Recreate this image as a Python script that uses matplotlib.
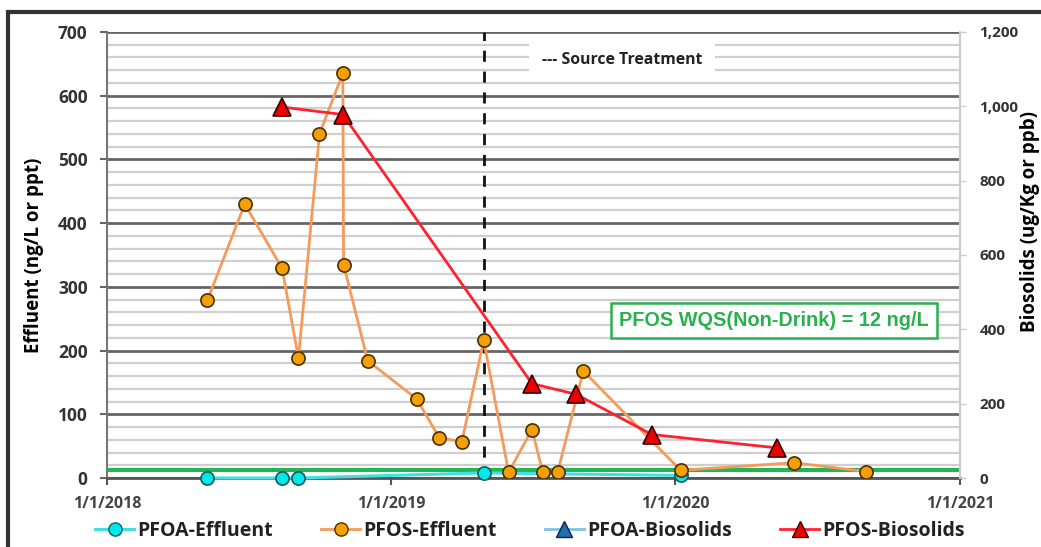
import datetime as dt
import matplotlib
matplotlib.use("Agg")
import matplotlib.pyplot as plt
import matplotlib.dates as mdates
from matplotlib.lines import Line2D
from matplotlib.patches import Rectangle
from matplotlib.ticker import MultipleLocator, FuncFormatter

plt.rcParams['font.family'] = ['Open Sans', 'DejaVu Sans']

# PFOS effluent samples (ng/L)
pfos_eff_dates = ["2018-05-10", "2018-06-27", "2018-08-14", "2018-09-04", "2018-10-01",
                  "2018-10-31", "2018-11-01", "2018-12-02", "2019-02-03", "2019-03-04",
                  "2019-04-02", "2019-04-30", "2019-06-01", "2019-07-01", "2019-07-15",
                  "2019-08-03", "2019-09-05", "2020-01-08", "2020-06-02", "2020-09-02"]
pfos_eff = [279, 430, 329, 188, 540, 635, 335, 184, 124, 63, 57, 216, 9, 76, 9, 9, 168, 12, 24, 10]

# PFOA effluent samples (ng/L)
pfoa_eff_dates = ["2018-05-10", "2018-08-14", "2018-09-04", "2019-04-30", "2020-01-08"]
pfoa_eff = [0, 0, 0, 8, 4]

# PFOS biosolids (ug/Kg)
pfos_bio_dates = ["2018-08-14", "2018-10-31", "2019-07-01", "2019-08-27", "2019-12-02", "2020-05-11"]
pfos_bio = [998, 978, 254, 225, 117, 81]

wqs_value = 12
treatment_date = "2019-04-30"
year_ticks = ["2018-01-01", "2019-01-01", "2020-01-01", "2021-01-01"]


def to_dates(lst):
    return [dt.datetime.strptime(s, "%Y-%m-%d") for s in lst]


fig = plt.figure(figsize=(10.41, 5.47), dpi=100)
ax = fig.add_axes([107/1041, 1-478/547, (960-107)/1041, (478-32)/547])
ax2 = ax.twinx()

xt = to_dates(year_ticks)
ax.set_xlim(xt[0], xt[-1])
ax.set_ylim(0, 700)
ax2.set_ylim(0, 1200)

# grid
ax.yaxis.set_major_locator(MultipleLocator(100))
ax.yaxis.set_minor_locator(MultipleLocator(20))
ax.grid(which='major', axis='y', color='#666666', lw=2)
ax.grid(which='minor', axis='y', color='#cfcfcf', lw=1.6)
ax.set_axisbelow(True)

# standard line
ax.plot([xt[0], xt[-1]], [wqs_value, wqs_value], color='#22b455', lw=3, zorder=3)

# source treatment
td = to_dates([treatment_date])[0]
ax.plot([td, td], [0, 700], color='#111111', lw=2, dashes=(4, 3.5), zorder=4)

ax.plot(to_dates(pfoa_eff_dates), pfoa_eff, color='#40e0e0', lw=2.2, marker='o', ms=9.5,
        mfc='#00e8e8', mec='#1a5a5a', mew=1.2, zorder=5, clip_on=False)
ax.plot(to_dates(pfos_eff_dates), pfos_eff, color='#f59a5a', lw=2, marker='o', ms=9.5,
        mfc='#f5a000', mec='#4a3000', mew=1.2, zorder=6)

ax2.plot(to_dates(pfos_bio_dates), pfos_bio, color='#ff2030', lw=2, marker='^', ms=13,
         mfc='#ee0000', mec='#300000', mew=1.2, zorder=5)

# axes styling
ax.set_xticks(xt)
ax.xaxis.set_major_formatter(FuncFormatter(lambda v, p: "{d.month}/{d.day}/{d.year}".format(d=mdates.num2date(v))))
for s in ['top', 'right']:
    ax.spines[s].set_visible(False)
for s in ['top', 'left', 'bottom']:
    ax2.spines[s].set_visible(False)
ax.spines['left'].set_color('#777777')
ax.spines['left'].set_linewidth(1.5)
ax.spines['bottom'].set_color('#555555')
ax.spines['bottom'].set_linewidth(2)
ax2.spines['right'].set_color('#cccccc')
ax2.spines['right'].set_linewidth(1.5)

ax.tick_params(axis='y', which='major', length=5, width=1.5, color='#666666', pad=9,
               labelsize=12.5, labelcolor='#333333')
ax.tick_params(axis='y', which='minor', length=0)
ax.tick_params(axis='x', length=5, width=1.5, color='#555555', pad=8, labelsize=11.5,
               labelcolor='#444444')
ax2.yaxis.set_major_locator(MultipleLocator(200))
ax2.yaxis.set_major_formatter(FuncFormatter(lambda v, p: "{:,.0f}".format(v)))
ax2.tick_params(axis='y', length=4, width=1, color='#cccccc', pad=10, labelsize=11,
                labelcolor='#333333')
for lab in ax.get_yticklabels() + ax.get_xticklabels() + ax2.get_yticklabels():
    lab.set_fontweight('bold')

ax.set_ylabel("Effluent (ng/L or ppt)", fontsize=13.5, fontweight='bold', labelpad=10)
fig.text(1030/1041, 1-222/547, "Biosolids (ug/Kg or ppb)", rotation=90, fontsize=13.5,
         fontweight='bold', ha='center', va='center')

ax2.text(0.604, 0.937, "--- Source Treatment", transform=ax2.transAxes, fontsize=11.3,
         fontweight='bold', color='#222222', ha='center', va='center', zorder=10,
         bbox=dict(boxstyle='square,pad=0.8', fc='white', ec='none'))
ax2.text(0.782, 0.353, "PFOS WQS(Non-Drink) = 12 ng/L", transform=ax2.transAxes,
         family=['Liberation Sans', 'DejaVu Sans'], fontsize=14.3, fontweight='bold',
         color='#2ab04f', ha='center', va='center', zorder=10,
         bbox=dict(boxstyle='square,pad=0.4', fc='white', ec='#2ab04f', lw=1.8))

# legend
handles = [
    Line2D([], [], color='#40e0e0', lw=2.2, marker='o', ms=9.5, mfc='#00e8e8', mec='#1a5a5a'),
    Line2D([], [], color='#f59a5a', lw=2, marker='o', ms=9.5, mfc='#f5a000', mec='#4a3000'),
    Line2D([], [], color='#7fbfe8', lw=2, marker='^', ms=11, mfc='#1f6fb0', mec='#102040'),
    Line2D([], [], color='#ff2030', lw=2, marker='^', ms=11, mfc='#ee0000', mec='#300000'),
]
labels = ["PFOA-Effluent", "PFOS-Effluent", "PFOA-Biosolids", "PFOS-Biosolids"]
leg = fig.legend(handles, labels, loc='center', bbox_to_anchor=(0.509, 1-531/547), ncol=4,
                 frameon=False, handlelength=2.0, handletextpad=0.15, columnspacing=2.5,
                 prop={'size': 14, 'weight': 'bold'})
for t in leg.get_texts():
    t.set_color('#222222')

# outer frame
fig.patches.append(Rectangle((8/1041, -0.1), 1.2, 1.1 - 11.5/547, transform=fig.transFigure,
                             fill=False, ec='#333333', lw=3))

fig.savefig("out.png", dpi=100)
